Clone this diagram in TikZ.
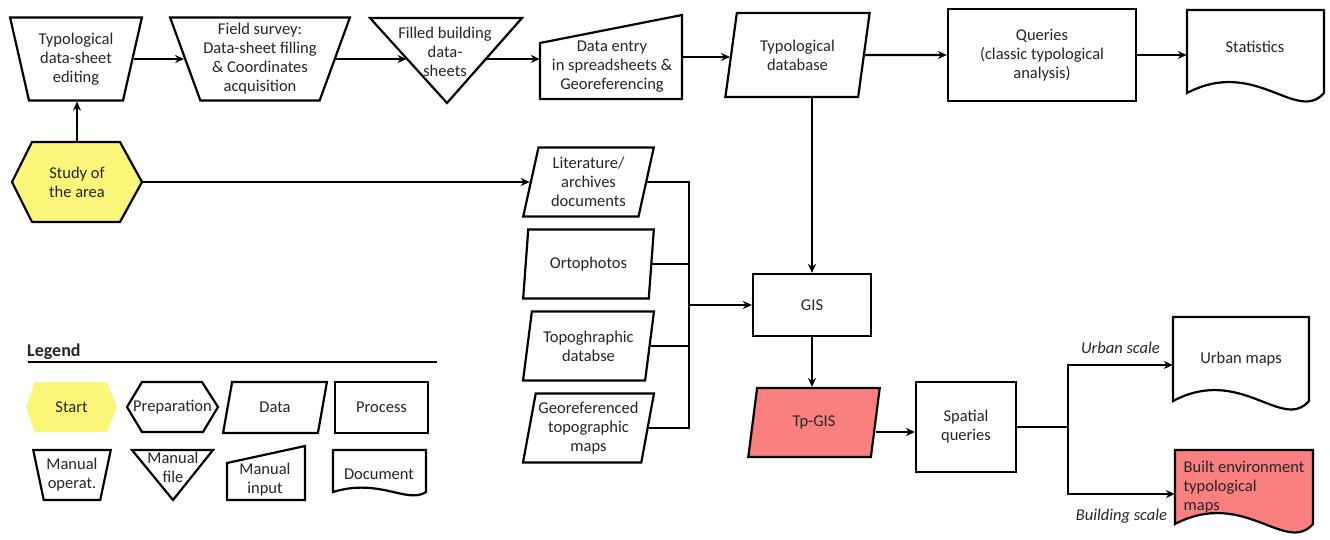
\documentclass[tikz,border=0pt]{standalone}
\usepackage{fontspec}
\setmainfont{Carlito}
\usetikzlibrary{shapes.geometric,arrows.meta,calc}
\newcommand\fs{\fontsize{16.5}{19}\selectfont}
\definecolor{hexyellow}{RGB}{250,246,122}
\definecolor{salmon}{RGB}{250,128,128}
\newcommand\docpath[6][]{\draw[shp,#1] (#2,#4) -- (#3,#4) -- (#3,#5) .. controls ({#2+0.8*(#3-#2)},{#5+31*#6}) and ({#2+0.5*(#3-#2)},{#5-36*#6}) .. (#2,#5) -- cycle;}
\begin{document}
\begin{tikzpicture}[x=1pt,y=-1pt,
  shp/.style={draw=black, line width=2.2pt, line join=miter},
  nd/.style={inner sep=0pt, align=center, font=\fs, text=black!85},
  box/.style={nd, rectangle},
  proc/.style={nd, shp, rectangle},
  trap/.style={nd, shp, trapezium, trapezium stretches=true},
  con/.style={line width=2.1pt},
  arr/.style={con, -{Stealth[length=9pt,width=8pt]}},
  lab/.style={inner sep=0pt, font=\fs\itshape, text=black!85}]
\useasboundingbox (0,0) rectangle (1330,539);
\fill[white] (0,0) rectangle (1330,539);

% outlines of custom shapes
\filldraw[shp, fill=hexyellow] (12,182) -- (32,142) -- (120,142) -- (142,182) -- (120,222) -- (32,222) -- cycle;
\draw[shp] (370,18) -- (522,18) -- (447,103) -- cycle;
\draw[shp] (540,99) -- (540,43) -- (682,15) -- (682,99) -- cycle;
\docpath{1187}{1324}{10}{93}{1}
\docpath{1173}{1309}{317}{401}{1}
\docpath[fill=salmon]{1175}{1313}{450}{524}{1}
% legend outlines
\fill[hexyellow] (26,407) -- (35,382) -- (107,382) -- (117,407) -- (107,432) -- (35,432) -- cycle;
\draw[shp] (127,407) -- (142,382) -- (202,382) -- (218,407) -- (203,432) -- (142,432) -- cycle;
\draw[shp] (132,450) -- (213,450) -- (173,500) -- cycle;
\draw[shp] (227,500) -- (227,463) -- (305,446) -- (305,500) -- cycle;
\docpath{333}{426}{450}{492}{0.4}

% nodes
\node[box, minimum width=130pt, minimum height=80pt] (study) at (77,182) {Study of\\the area};
\node[trap, trapezium left angle=106, trapezium right angle=106, minimum width=132pt, minimum height=83pt] (ted) at (76,59) {Typological\\data-sheet\\editing};
\node[trap, trapezium left angle=112, trapezium right angle=112, minimum width=180pt, minimum height=83pt] (fs) at (260,59) {Field survey:\\Data-sheet filling\\\& Coordinates\\acquisition};
\node[box, minimum width=152pt, minimum height=85pt] (fb) at (446,60.5) {};
\node[nd] (fbT) at (445,52) {Filled building\\data-\\sheets};
\node[box, minimum width=142pt, minimum height=84pt] (de) at (611,57) {};
\node[nd] (deT) at (612,67) {Data entry\\in spreadsheets \&\\Georeferencing};
\node[trap, trapezium left angle=77, trapezium right angle=103, minimum width=145pt, minimum height=84pt] (tdb) at (797.5,55) {Typological\\database};
\node[proc, minimum width=188pt, minimum height=92pt] (q) at (1042,55) {Queries\\(classic typological\\analysis)};
\node[box, minimum width=137pt, minimum height=83pt] (st) at (1255.5,51.5) {};
\node[nd] (stT) at (1255,47) {Statistics};

\node[trap, trapezium left angle=77, trapezium right angle=103, minimum width=131pt, minimum height=69pt] (lit) at (588.5,182) {Literature/\\archives\\documents};
\node[trap, trapezium left angle=77, trapezium right angle=103, minimum width=131pt, minimum height=69pt] (ort) at (588.5,264) {Ortophotos};
\node[trap, trapezium left angle=77, trapezium right angle=103, minimum width=131pt, minimum height=69pt] (topo) at (588.5,346) {Topoghraphic\\databse};
\node[trap, trapezium left angle=77, trapezium right angle=103, minimum width=131pt, minimum height=69pt] (geo) at (588.5,428) {Georeferenced\\topographic\\maps};
\node[proc, minimum width=118pt, minimum height=62pt] (gis) at (812,305) {GIS};
\node[trap, fill=salmon, trapezium left angle=76, trapezium right angle=104, minimum width=132pt, minimum height=69pt] (tp) at (814,422.5) {Tp-GIS};
\node[proc, minimum width=100pt, minimum height=90pt] (sq) at (966,427) {Spatial\\queries};
\node[box, minimum width=136pt, minimum height=84pt] (um) at (1241,359) {Urban maps};
\node[box, align=left, minimum width=138pt, minimum height=74pt] (be) at (1244,487) {Built environment\\typological\\maps};

% connectors
\draw[arr] (study.north) -- (study.north |- ted.south);
\draw[arr] (ted.east) -- (ted.east -| fs.west);
\coordinate (fbW) at ($(fb.north west)!0.482!(fb.south)$);
\coordinate (fbE) at ($(fb.north east)!0.482!(fb.south)$);
\draw[arr] (fs.east) -- (fs.east -| fbW);
\draw[arr] (fbE) -- (fbE -| de.west);
\draw[arr] (de.east) -- (de.east -| tdb.west);
\draw[arr] (tdb.east) -- (q.west);
\draw[arr] (q.east) -- (q.east -| st.west);
\draw[arr] (study.east) -- (study.east -| lit.west);
\draw[arr] (tdb.south -| gis.north) -- (gis.north);
\coordinate (bus) at ($(gis.west)+(-63,0)$);
\draw[con] (lit.east) -| (bus) |- (geo.east);
\draw[con] (ort.east) -- (ort.east -| bus);
\draw[con] (topo.east) -- (topo.east -| bus);
\draw[arr] (bus) -- (gis.west);
\draw[arr] (gis.south) -- (gis.south |- tp.north);
\coordinate (sqin) at ([yshift=-5pt]sq.west);
\draw[arr] (sqin -| tp.east) -- (sqin);
\coordinate (split) at ($(sq.east)+(51,0)$);
\draw[con] (sq.east) -- (split);
\draw[arr] (split) |- ([yshift=-6pt]um.west) node[lab, pos=0.75, yshift=17pt] (ulab) {Urban scale};
\draw[arr] (split) |- ([yshift=-7pt]be.west) node[lab, pos=0.75, yshift=-22pt] (blab) {Building scale};

% legend
\node[nd, font=\fontsize{18}{20}\selectfont\bfseries, anchor=west] (leg) at (27,352) {Legend};
\draw[line width=1.5pt] (28,362) -- (437,362);
\node[nd] (lstart) at (71.5,407) {Start};
\node[nd] (lprep) at (172.5,407) {Preparation};
\node[trap, trapezium left angle=73, trapezium right angle=107, minimum width=104pt, minimum height=51pt] (ldata) at (275,407.5) {Data};
\node[proc, minimum width=93pt, minimum height=51pt] (lproc) at (381.5,407.5) {Process};
\node[trap, trapezium left angle=106, trapezium right angle=106, minimum width=78pt, minimum height=50pt] (lmo) at (72,475) {Manual\\operat.};
\node[nd] (lmf) at (173,467) {Manual\\file};
\node[nd] (lmi) at (265,480) {Manual\\input};
\node[nd] (ldoc) at (379,474) {Document};
\end{tikzpicture}
\end{document}
